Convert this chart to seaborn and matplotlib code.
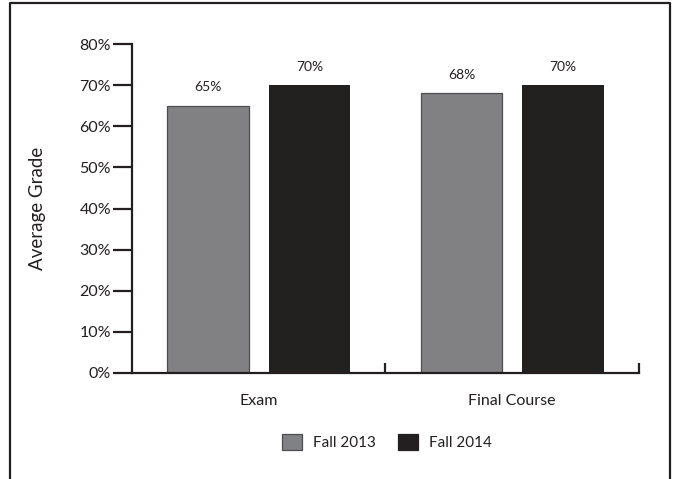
import matplotlib
matplotlib.use('Agg')
import matplotlib.pyplot as plt
import pandas as pd
import seaborn as sns
from matplotlib.lines import Line2D
from matplotlib.ticker import FuncFormatter

categories = ['Exam', 'Final Course']
terms = ['Fall 2013', 'Fall 2014']
fall_2013 = [65, 68]
fall_2014 = [70, 70]
y_ticks = [0, 10, 20, 30, 40, 50, 60, 70, 80]

df = pd.DataFrame({
    'category': categories * 2,
    'term': [terms[0]] * len(categories) + [terms[1]] * len(categories),
    'grade': fall_2013 + fall_2014,
})

sns.set_theme(style='white')
plt.rcParams['font.family'] = ['Lato', 'DejaVu Sans']
text_color = '#231f20'

fig = plt.figure(figsize=(6.73, 4.79), dpi=100)
ax = fig.add_axes([0.196, 0.2213, 0.7535, 0.6867])

sns.barplot(data=df, x='category', y='grade', hue='term',
            order=categories, hue_order=terms,
            palette=['#808184', '#231f20'], width=0.8, gap=0.2,
            linewidth=0, legend=False, ax=ax)
# thin dark outline on the grey bars only
for patch in ax.containers[0]:
    patch.set_edgecolor('#4d4d4f')
    patch.set_linewidth(0.9)

for cont in ax.containers:
    ax.bar_label(cont, fmt='%.0f%%', padding=9, fontsize=10, color=text_color)

ax.set_ylim(0, 80)
ax.set_xlim(-0.5, 1.5)
ax.set_yticks(y_ticks)
ax.yaxis.set_major_formatter(FuncFormatter(lambda v, p: f'{v:.0f}%'))
ax.tick_params(axis='y', direction='out', length=14, width=1.6, color=text_color,
               labelsize=11.5, labelcolor=text_color, pad=1, left=True)
ax.tick_params(axis='x', which='major', length=0, pad=15, labelsize=11.5, labelcolor=text_color)
ax.set_xticks([0.5, 1.5], minor=True)
ax.tick_params(axis='x', which='minor', direction='in', length=7, width=1.6,
               color=text_color, bottom=True)

ax.set_xlabel('')
ax.set_ylabel('Average Grade', fontsize=13.5, color=text_color)
ax.yaxis.set_label_coords(-0.17, 0.5)

for side in ['top', 'right']:
    ax.spines[side].set_visible(False)
for side in ['left', 'bottom']:
    ax.spines[side].set_color(text_color)
    ax.spines[side].set_linewidth(1.6)

handles = [plt.Rectangle((0, 0), 1, 1, facecolor='#808184', edgecolor='#4d4d4f', linewidth=0.9),
           plt.Rectangle((0, 0), 1, 1, facecolor='#231f20', edgecolor='#231f20', linewidth=0.9)]
fig.legend(handles, terms, loc='center', bbox_to_anchor=(0.575, 0.077), ncol=2,
           frameon=False, fontsize=11, handlelength=1.3, handleheight=1.3,
           handletextpad=0.7, columnspacing=1.5, labelcolor=text_color)

# outer frame (open at the bottom)
x0, x1, yt = 10 / 673, 670 / 673, 1 - 3 / 479
fig.add_artist(Line2D([x0, x0, x1, x1], [0, yt, yt, 0], transform=fig.transFigure,
                      color=text_color, linewidth=1.6))

fig.savefig('out.png', dpi=100)
